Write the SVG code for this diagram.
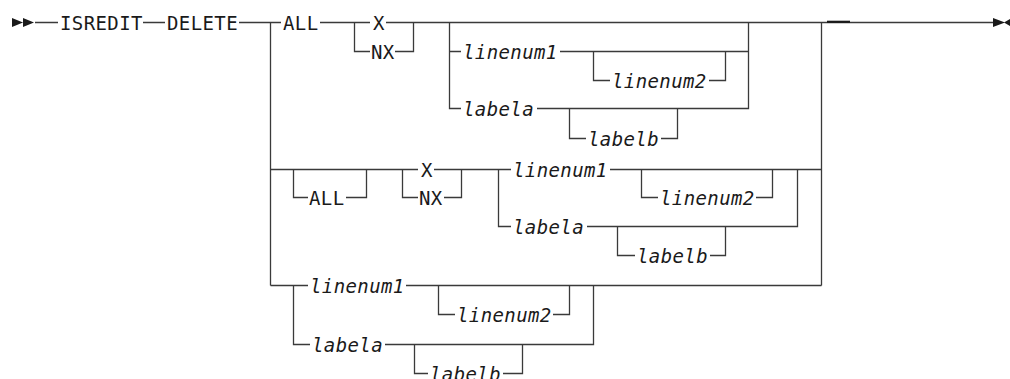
<svg xmlns="http://www.w3.org/2000/svg" width="1010" height="379" viewBox="0 0 1010 379">
<style>
.t{font-family:"DejaVu Sans Mono","Liberation Mono",monospace;font-size:19px;letter-spacing:0.4px;fill:#1a1a1a}
.i{font-style:italic}
.c{fill:none;stroke:#3a3a3a;stroke-width:1.3}
.a{fill:#1a1a1a}
</style>
<rect width="1010" height="379" fill="#fff"/>
<g id="connectors">
<path class="c" d="M35 22.5H58M143 22.5H165M239 22.5H281M320 22.5H370M386 22.5H993"/>
<path class="c" d="M270.5 22.5V285.5M821.5 22.5V285.5"/>
<path class="c" d="M354.5 22.5V51.5H370M395 51.5H413.5V22.5"/>
<path class="c" d="M449.5 22.5V108.5H461M449.5 51.5H461M560 51.5H748.5M537 108.5H748.5V22.5"/>
<path class="c" d="M593.5 51.5V80.5H610M709 80.5H725.5V51.5"/>
<path class="c" d="M569.5 108.5V138.5H586M661 138.5H677.5V108.5"/>
<path class="c" d="M270.5 169.5H418M434 169.5H511M610 169.5H821.5"/>
<path class="c" d="M293.5 169.5V197.5H308M346 197.5H366.5V169.5"/>
<path class="c" d="M402.5 169.5V197.5H418M444 197.5H461.5V169.5"/>
<path class="c" d="M498.5 169.5V226.5H511M587 226.5H797.5V169.5"/>
<path class="c" d="M641.5 169.5V197.5H658M756 197.5H772.5V169.5"/>
<path class="c" d="M617.5 226.5V255.5H635M710 255.5H725.5V226.5"/>
<path class="c" d="M270.5 285.5H308M406 285.5H821.5"/>
<path class="c" d="M293.5 285.5V344.5H310M385 344.5H593.5V285.5"/>
<path class="c" d="M438.5 285.5V314.5H455M553 314.5H569.5V285.5"/>
<path class="c" d="M414.5 344.5V373.5H428M503 373.5H522.5V344.5"/>
<path d="M827 21.8H850" fill="none" stroke="#1a1a1a" stroke-width="2.2"/>
<path class="a" d="M12 18L23 22.5L12 27ZM23 18L34 22.5L23 27Z"/>
<path class="a" d="M993 18L1005 22.5L993 27ZM1010 19L1004 22.5L1010 26Z"/>
</g>
<g id="n-isredit"><text class="t" x="60" y="29.5">ISREDIT</text></g>
<g id="n-delete"><text class="t" x="167" y="29.5">DELETE</text></g>
<g id="n-all1"><text class="t" x="283" y="29.5">ALL</text></g>
<g id="n-x1"><text class="t" x="373" y="29.5">X</text></g>
<g id="n-nx1"><text class="t" x="371" y="58.5">NX</text></g>
<g id="n-linenum1a"><text class="t i" x="463" y="58.5">linenum1</text></g>
<g id="n-linenum2a"><text class="t i" x="612" y="87.5">linenum2</text></g>
<g id="n-labelaa"><text class="t i" x="463" y="115.5">labela</text></g>
<g id="n-labelba"><text class="t i" x="588" y="145.5">labelb</text></g>
<g id="n-all2"><text class="t" x="309" y="204.5">ALL</text></g>
<g id="n-x2"><text class="t" x="421" y="176.5">X</text></g>
<g id="n-nx2"><text class="t" x="419" y="204.5">NX</text></g>
<g id="n-linenum1b"><text class="t i" x="513" y="176.5">linenum1</text></g>
<g id="n-linenum2b"><text class="t i" x="660" y="204.5">linenum2</text></g>
<g id="n-labelab"><text class="t i" x="513" y="233.5">labela</text></g>
<g id="n-labelbb"><text class="t i" x="637" y="262.5">labelb</text></g>
<g id="n-linenum1c"><text class="t i" x="310" y="292.5">linenum1</text></g>
<g id="n-linenum2c"><text class="t i" x="457" y="321.5">linenum2</text></g>
<g id="n-labelac"><text class="t i" x="312" y="351.5">labela</text></g>
<g id="n-labelbc"><text class="t i" x="430" y="380.5">labelb</text></g>
</svg>
